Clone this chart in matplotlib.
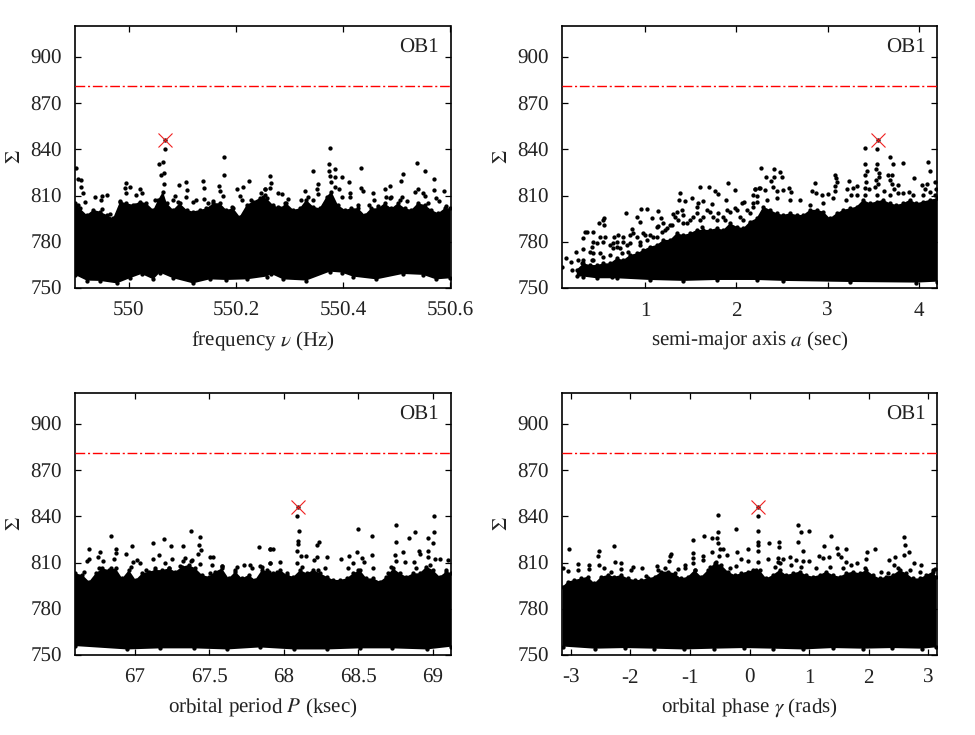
import numpy as np
import matplotlib
matplotlib.use('Agg')
import matplotlib.pyplot as plt

plt.rcParams['font.family'] = ['Liberation Serif', 'DejaVu Serif']
plt.rcParams['mathtext.fontset'] = 'stix'
plt.rcParams['text.hinting'] = 'no_hinting'
plt.rcParams['text.hinting_factor'] = 1

threshold = 881
peak_sigma = 846

# panel 1: frequency
freq_peak = 550.068
freq_x = [550.068, 550.056, 550.064, 550.066, 550.061, 550.066, 549.901, 549.905, 549.912, 549.911, 549.915,
          549.996, 550.002, 549.994, 549.995, 549.937, 549.950, 549.959, 549.948, 550.094, 550.107, 550.109,
          550.087, 550.107, 550.138, 550.141, 550.168, 550.170, 550.178, 550.178, 550.202, 550.213, 550.225,
          550.207, 550.212, 550.021, 550.024, 550.014, 550.125, 550.141, 550.158, 550.176, 550.254, 550.246,
          550.375, 550.374, 550.374, 550.385, 550.343, 550.376, 550.384, 550.397, 550.377, 550.411, 550.353,
          550.352, 550.353, 550.328, 550.434, 550.434, 550.436, 550.455, 550.457, 550.477, 550.487, 550.479,
          550.488, 550.507, 550.511, 550.538, 550.553, 550.570, 550.569, 550.587, 550.539, 550.549, 550.533,
          550.553, 550.573, 550.578, 550.510, 550.264, 550.266, 550.263, 550.254, 550.279, 550.285, 550.297,
          550.393, 550.384, 550.412, 550.412,
          549.906, 549.919, 549.951, 549.965, 549.984, 550.012, 550.049, 550.083, 550.092, 550.120, 550.148,
          550.192, 550.229, 550.251, 550.254, 550.279, 550.291, 550.322, 550.334, 550.344, 550.397, 550.428,
          550.449, 550.465, 550.490, 550.505, 550.518, 550.539, 550.558, 550.592]
freq_y = [840.5, 830.7, 831.6, 824.5, 823.4, 817.5, 827.7, 821.0, 819.9, 815.8, 811.9,
          818.4, 815.4, 814.7, 811.5, 809.3, 810.0, 810.2, 807.2, 816.9, 818.8, 813.9,
          809.8, 809.3, 819.3, 814.7, 816.0, 812.8, 834.9, 823.4, 814.1, 815.6, 819.3,
          810.0, 807.2, 814.1, 811.5, 810.6, 806.9, 807.6, 806.7, 809.8, 814.3, 811.9,
          840.9, 830.7, 826.0, 827.3, 826.2, 822.7, 821.9, 821.7, 818.8, 819.1, 817.5,
          814.3, 811.0, 812.8, 827.7, 815.2, 813.0, 811.9, 807.2, 814.1, 816.0, 809.3,
          808.2, 819.7, 824.2, 831.2, 825.6, 821.0, 813.9, 812.8, 814.1, 811.9, 812.3,
          809.8, 808.7, 806.5, 809.3, 822.7, 818.4, 814.7, 814.3, 811.9, 811.0, 807.8,
          814.3, 815.4, 811.9, 808.9,
          803.9, 805.6, 801.1, 797.8, 806.5, 803.9, 807.2, 807.2, 806.1, 806.1, 805.0,
          802.8, 807.2, 809.3, 810.4, 802.8, 805.0, 807.2, 809.3, 807.2, 809.3, 803.9,
          803.9, 803.3, 808.9, 807.2, 806.6, 803.9, 805.0, 803.3]
freq_edge_x = [549.9, 549.909, 549.922, 549.934, 549.946, 549.959, 549.971, 549.984, 549.996, 550.009, 550.021,
               550.033, 550.046, 550.055, 550.064, 550.071, 550.083, 550.095, 550.108, 550.120, 550.133, 550.145,
               550.158, 550.170, 550.182, 550.195, 550.207, 550.220, 550.232, 550.244, 550.257, 550.269, 550.282,
               550.294, 550.307, 550.319, 550.331, 550.344, 550.356, 550.369, 550.378, 550.390, 550.403, 550.415,
               550.428, 550.440, 550.452, 550.465, 550.477, 550.490, 550.502, 550.515, 550.527, 550.539, 550.552,
               550.564, 550.577, 550.589, 550.6]
freq_edge_y = [805.0, 801.7, 797.4, 800.7, 799.6, 797.4, 795.2, 806.1, 805.0, 803.9, 806.1,
               805.0, 800.7, 807.2, 812.6, 805.0, 800.7, 805.0, 800.7, 799.6, 800.7, 801.7,
               805.0, 805.0, 800.7, 801.7, 796.3, 803.9, 806.1, 808.2, 808.2, 803.9, 801.7,
               805.0, 800.7, 801.7, 807.2, 802.8, 801.7, 809.3, 812.6, 803.9, 800.7, 801.7,
               801.7, 797.4, 801.7, 801.7, 805.0, 801.7, 805.0, 801.7, 800.7, 805.0, 803.9,
               800.7, 798.5, 801.7, 801.7]
freq_floor_x = [549.9, 549.922, 549.946, 549.978, 550.002, 550.024, 550.046, 550.058, 550.083, 550.120, 550.151,
                550.182, 550.220, 550.257, 550.266, 550.288, 550.331, 550.375, 550.397, 550.418, 550.462, 550.511,
                550.549, 550.573, 550.6]
freq_floor_y = [758.5, 754.8, 754.6, 753.0, 756.3, 759.1, 755.6, 760.0, 756.3, 753.0, 755.6,
                755.2, 755.6, 757.4, 759.1, 755.6, 754.8, 760.6, 760.0, 757.4, 755.6, 759.1,
                758.5, 755.6, 756.3]

# panel 2: semi-major axis
axis_peak = 3.548
axis_x = [0.095, 0.132, 0.19, 0.245, 0.325, 0.343, 0.369, 0.434, 0.496, 0.544, 0.555, 0.555, 0.318, 0.434, 0.507,
          0.562, 0.661, 0.708, 0.756, 0.792, 0.861, 0.909, 0.945, 0.956, 1.018, 1.080, 1.139, 1.175, 1.146, 1.292,
          1.310, 1.383, 1.376, 1.434, 1.515, 1.599, 1.705, 1.767, 1.796, 1.913, 1.986, 1.639, 1.584, 1.730, 1.883,
          2.059, 2.084, 2.179, 2.205, 2.248, 2.223, 2.230,
          2.267, 2.413, 2.478, 2.504, 2.325, 2.376, 2.413, 2.398, 2.205, 2.259, 2.314, 2.442, 2.515, 2.581, 2.595,
          2.862, 2.825, 2.873, 2.942, 3.000, 3.081, 3.092, 3.106, 3.081, 3.077, 3.234, 3.212, 3.281, 3.325, 3.252,
          3.409, 3.541, 3.413, 3.435, 3.544, 3.530, 3.562, 3.559, 3.413, 3.427, 3.530, 3.548, 3.413, 3.519, 3.457,
          3.621, 3.683, 3.723, 3.829, 3.668, 3.705, 3.683, 3.712, 3.770, 3.730, 3.825, 3.898, 3.949, 4.103, 4.124,
          4.037, 4.095, 4.066, 4.179, 4.186, 4.121,
          0.325, 0.398, 0.471, 0.544, 0.617, 0.690, 0.763, 0.836, 0.909, 0.982, 1.055, 1.128, 1.201, 1.274, 1.347,
          1.420, 1.493, 1.566, 1.639, 1.712, 1.785, 1.858, 1.931, 2.004, 2.077, 2.150,
          0.307, 0.434, 0.507, 0.653, 0.726, 0.799, 0.945, 1.018, 1.091, 1.219, 1.365, 1.456, 1.602, 1.748, 1.876,
          2.040,
          0.197, 0.288, 0.380, 0.434, 0.471, 0.416, 0.635, 0.690, 0.653, 0.836, 0.872, 0.270, 0.416, 0.544, 0.617,
          0.745, 0.818, 0.945, 1.000, 1.128, 1.183, 1.237, 1.420, 1.529, 1.621,
          2.186, 2.332, 2.442, 2.588, 2.697, 2.807, 2.953, 3.062, 3.208, 3.318, 3.409, 3.537, 3.683, 3.774, 3.938,
          4.048, 4.176, 1.329, 1.402, 1.566, 1.675, 1.803, 1.894, 1.986, 2.113, 2.186]
axis_y = [763.9, 769.7, 767.1, 773.2, 782.3, 786.2, 786.6, 786.2, 792.0, 794.2, 795.7, 790.7, 775.1, 780.1, 782.9,
          783.3, 783.3, 784.6, 782.9, 798.9, 788.1, 796.1, 792.6, 801.3, 801.1, 795.5, 800.2, 795.2, 790.3, 790.9,
          797.8, 811.7, 807.2, 806.3, 808.2, 815.6, 815.6, 812.8, 810.8, 818.4, 813.9, 806.5, 805.4, 804.6, 807.2,
          805.0, 806.1, 810.2, 814.3, 814.9, 809.8, 806.1,
          827.7, 827.1, 825.3, 821.9, 821.7, 819.3, 821.9, 815.8, 814.3, 814.9, 813.6, 812.8, 813.6, 814.7, 812.3,
          818.2, 812.8, 811.7, 810.6, 811.3, 823.2, 821.2, 819.1, 816.2, 813.0, 819.3, 814.1, 814.7, 816.0, 810.4,
          840.9, 840.5, 830.7, 826.0, 830.7, 827.5, 824.5, 822.3, 823.0, 818.8, 819.9, 817.8, 815.2, 815.8, 814.1,
          813.0, 834.9, 830.5, 831.2, 823.4, 823.4, 820.1, 817.3, 816.7, 814.3, 811.7, 812.3, 821.4, 832.0, 826.0,
          816.7, 817.3, 814.3, 819.1, 814.3, 812.1,
          768.2, 773.6, 779.0, 780.1, 777.9, 780.1, 780.1, 784.4, 783.3, 785.5, 784.4, 789.8, 792.0, 790.9, 799.6,
          797.4, 794.2, 802.8, 796.3, 799.6, 794.2, 796.3, 799.6, 800.7, 794.2, 798.5,
          766.0, 768.2, 772.5, 775.8, 775.8, 777.9, 780.1, 781.2, 783.3, 787.7, 794.2, 792.0, 794.2, 796.3, 794.2,
          796.3,
          761.7, 759.5, 763.9, 772.5, 760.6, 776.8, 757.4, 776.8, 779.0, 779.0, 785.5, 768.2, 768.2, 770.4, 771.4,
          772.5, 773.6, 777.9, 784.4, 783.3, 786.6, 788.8, 792.0, 796.3, 789.8,
          805.0, 807.2, 808.2, 807.2, 807.2, 803.9, 805.0, 808.2, 807.2, 810.4, 810.4, 810.4, 810.4, 811.5, 810.4,
          810.4, 810.4, 796.3, 800.7, 798.5, 800.7, 798.5, 800.7, 801.7, 800.7, 802.8]
axis_edge_x = [0.252, 0.325, 0.398, 0.471, 0.544, 0.617, 0.690, 0.763, 0.836, 0.909, 0.982, 1.055,
               1.128, 1.201, 1.274, 1.347, 1.420, 1.493, 1.566, 1.639, 1.712, 1.785, 1.858, 1.931, 2.004, 2.077,
               2.150, 2.223, 2.296, 2.369, 2.442, 2.515, 2.588, 2.661, 2.734, 2.807, 2.880, 2.953, 3.026, 3.099,
               3.172, 3.245, 3.318, 3.391, 3.464, 3.537, 3.610, 3.683, 3.756, 3.829, 3.902, 3.975, 4.048, 4.121,
               4.2]
axis_edge_y = [762.0, 766.0, 764.9, 764.9, 766.0, 766.0, 769.3, 768.2, 771.4, 772.5, 774.7, 776.8,
               777.9, 781.2, 781.2, 785.5, 784.4, 785.5, 787.7, 787.7, 787.7, 788.8, 787.7, 792.0, 789.8, 788.8,
               793.1, 795.2, 802.8, 800.7, 798.5, 797.4, 798.5, 797.4, 797.4, 800.7, 800.7, 799.6, 795.2, 798.5,
               800.7, 801.7, 802.8, 807.2, 805.0, 806.1, 807.2, 805.0, 803.9, 805.0, 807.2, 805.0, 806.1, 807.2,
               808.2]
axis_floor_x = [0.252, 0.325, 0.471, 0.690, 1.055, 1.420, 1.785, 2.223, 2.515, 3.245, 3.975, 4.2]
axis_floor_y = [757.5, 757.4, 756.3, 756.3, 755.2, 754.6, 755.2, 755.2, 754.6, 753.9, 753.5, 754.1]

# panel 3: orbital period
period_peak = 68.095
period_x = [66.844, 66.697, 66.766, 66.875, 66.875, 66.862, 66.942, 66.982, 66.991, 67.013, 67.038, 66.695, 66.683,
            66.755, 66.790, 67.125, 67.125, 67.163, 67.196, 67.245, 67.205, 67.252, 67.325, 67.341, 67.325, 67.377,
            67.439, 67.430, 67.448, 67.424, 67.379, 67.437, 67.504, 67.528, 67.519, 67.584, 67.687, 67.731, 67.776,
            67.834, 67.843, 67.910, 67.910,
            68.093, 68.102, 68.099, 68.099, 68.093, 68.115, 68.151, 68.093, 67.910, 67.928, 67.910, 67.977, 68.206,
            68.222, 68.235, 68.222, 68.289, 68.385, 68.441, 68.496, 68.494, 68.523, 68.539, 68.463, 68.590, 68.590,
            68.601, 68.755, 68.757, 68.746, 68.753, 68.800, 68.880, 68.840, 68.907, 68.918, 68.971, 69.002, 69.009,
            69.009, 68.969, 68.969, 69.051, 69.014, 69.103, 68.873,
            66.661, 66.761, 66.839, 66.973, 67.074, 67.140, 67.230, 67.308, 67.386, 67.508, 67.586, 67.676, 67.787,
            67.887, 67.854, 67.954, 68.021, 68.122, 68.233, 68.278, 68.434, 68.501, 68.701, 68.724, 68.813, 68.891,
            68.980, 69.092]
period_y = [827.2, 818.6, 816.6, 819.0, 816.0, 812.1, 815.3, 820.7, 810.1, 811.9, 809.9, 812.1, 811.2,
            813.8, 811.2, 822.9, 812.3, 814.9, 825.1, 821.0, 809.7, 812.3, 821.0, 813.2, 811.2, 830.7,
            826.6, 821.4, 817.9, 815.3, 811.2, 809.0, 813.8, 813.8, 808.6, 807.8, 807.3, 808.4, 808.4,
            819.9, 807.8, 818.8, 809.9,
            840.2, 830.3, 824.2, 822.0, 817.5, 814.2, 814.5, 809.9, 818.8, 818.8, 809.9, 810.3, 811.6,
            821.4, 823.1, 813.6, 813.8, 812.3, 814.0, 831.8, 817.0, 813.2, 810.6, 809.9, 827.2, 814.7,
            806.2, 834.6, 823.3, 814.9, 811.2, 816.6, 830.0, 825.7, 817.5, 815.5, 825.7, 822.9, 840.4,
            830.0, 817.5, 813.8, 812.3, 812.3, 811.6, 810.6,
            804.1, 806.2, 806.2, 806.9, 805.1, 806.2, 806.2, 807.8, 811.6, 803.4, 807.8, 805.1, 806.2,
            805.1, 806.9, 804.1, 803.0, 807.3, 805.1, 806.2, 806.2, 805.1, 803.0, 807.3, 810.6, 806.2,
            808.4, 805.1]
period_edge_x = [66.6, 66.650, 66.695, 66.739, 66.784, 66.828, 66.873, 66.917, 66.962, 67.007, 67.051, 67.096,
                 67.140, 67.185, 67.230, 67.274, 67.319, 67.363, 67.408, 67.453, 67.497, 67.542, 67.586, 67.631,
                 67.676, 67.720, 67.765, 67.809, 67.854, 67.899, 67.932, 67.977, 68.021, 68.066, 68.111, 68.155,
                 68.200, 68.244, 68.289, 68.334, 68.378, 68.423, 68.467, 68.512, 68.556, 68.601, 68.646, 68.690,
                 68.735, 68.779, 68.824, 68.869, 68.913, 68.958, 69.002, 69.047, 69.092, 69.125]
period_edge_y = [803.0, 801.9, 797.6, 803.0, 806.2, 805.1, 806.2, 799.7, 805.1, 798.7, 803.0, 804.1,
                 805.1, 805.1, 806.2, 804.1, 807.3, 808.4, 806.2, 801.9, 800.8, 804.1, 806.2, 799.7,
                 804.1, 799.7, 801.9, 798.7, 805.1, 804.1, 803.0, 805.1, 801.9, 800.8, 805.1, 803.0,
                 805.1, 803.0, 800.8, 798.7, 798.7, 799.7, 803.0, 805.1, 799.7, 799.7, 797.6, 800.8,
                 806.2, 803.0, 800.8, 803.0, 803.0, 807.3, 805.1, 800.8, 804.1, 803.0]
period_floor_x = [66.6, 66.95, 67.17, 67.40, 67.62, 67.84, 68.07, 68.29, 68.51, 68.73, 68.96, 69.125]
period_floor_y = [755.8, 753.6, 754.3, 754.3, 753.6, 754.9, 753.6, 753.6, 754.3, 754.3, 753.6, 755.4]

# panel 4: orbital phase
phase_peak = 0.146
phase_x = [-3.025, -2.532, -2.549, -2.532, -2.269, -2.252, -2.157, -2.157, -2.885, -2.689, -1.949, -1.809, -1.552,
           -1.344, -1.316, -1.355, -1.204, -1.081, -0.941, -0.952, -0.952, -0.952, -0.773, -0.762, -0.773, -0.633,
           -0.622, -0.543, -0.521, -0.521, -0.521, -0.504, -0.437, -0.375, -0.509, -0.224, -0.218, -0.151, -0.224,
           -0.017, -0.017,
           0.146, 0.140, 0.140, 0.146, 0.146, 0.151, 0.325, 0.319, 0.493, 0.493, 0.476, 0.476, 0.683, 0.560, 0.812,
           0.812, 0.857, 0.992, 0.891, 0.992, 0.896, 0.784, 1.361, 1.244, 1.333, 1.160, 1.232, 1.473, 1.485, 1.613,
           1.541, 1.625, 1.810, 1.966, 2.101, 1.950, 2.342, 2.437, 2.420, 2.599, 2.605, 2.594, 2.683, 2.756, 2.874,
           3.109,
           -3.137, -3.053, -2.885, -2.689, -2.437, -2.325, -1.988, -1.736, -1.540, -1.428, -1.092, -0.924, -0.672,
           -0.560, -0.336, -0.084, 0.112, 0.420, 0.504, 0.700, 0.868, 1.120, 1.345, 1.569, 1.709, 1.933, 2.213,
           2.325, 2.493, 2.689, 2.857, 3.081]
phase_y = [818.8, 817.7, 814.5, 808.2, 820.7, 810.1, 809.7, 806.0, 808.8, 808.2, 807.1, 806.4, 807.8,
           814.2, 815.8, 811.2, 805.8, 808.2, 824.6, 816.0, 812.7, 809.5, 814.5, 827.2, 811.6, 817.1,
           825.7, 825.7, 840.6, 830.0, 822.5, 818.6, 818.8, 814.9, 814.5, 831.8, 817.1, 812.3, 807.8,
           818.6, 811.2,
           840.2, 830.5, 823.6, 821.4, 817.5, 810.6, 822.9, 812.3, 823.1, 820.3, 812.7, 810.6, 813.8, 812.1, 834.6,
           823.1, 830.0, 830.7, 817.7, 811.0, 811.2, 811.6, 827.2, 820.7, 813.8, 814.0, 812.7, 819.7, 815.5, 818.6,
           813.8, 810.6, 809.9, 816.6, 819.0, 812.3, 811.4, 813.8, 808.6, 826.6, 821.4, 815.1, 816.6, 809.9, 808.6,
           805.8,
           806.2, 804.5, 805.1, 805.6, 806.2, 804.1, 805.1, 801.3, 805.1, 806.2, 806.2, 805.1, 807.3,
           810.6, 806.2, 802.6, 805.1, 807.3, 809.5, 808.4, 807.3, 806.2, 807.3, 806.2, 808.4, 806.2, 804.1,
           803.0, 806.2, 805.1, 804.1, 805.1]
phase_edge_x = [-3.14, -3.053, -2.941, -2.829, -2.717, -2.605, -2.493, -2.381, -2.269, -2.157, -2.044, -1.932,
                -1.820, -1.708, -1.596, -1.484, -1.372, -1.260, -1.148, -1.036, -0.924, -0.812, -0.700, -0.588,
                -0.476, -0.364, -0.252, -0.140, -0.028, 0.056, 0.168, 0.280, 0.392, 0.504, 0.616, 0.728, 0.840,
                0.952, 1.064, 1.176, 1.289, 1.401, 1.513, 1.625, 1.737, 1.849, 1.961, 2.073, 2.185, 2.297, 2.409,
                2.521, 2.633, 2.745, 2.857, 2.969, 3.081, 3.14]
phase_edge_y = [794.3, 797.6, 798.7, 799.7, 800.8, 796.5, 800.8, 801.9, 800.8, 801.9, 799.7, 798.7,
                798.7, 799.7, 800.8, 804.1, 804.1, 803.0, 799.7, 800.8, 805.1, 800.8, 805.1, 809.5,
                808.4, 804.1, 801.9, 803.0, 804.1, 805.1, 805.1, 799.7, 801.9, 805.1, 801.9, 803.0, 804.1,
                801.9, 800.8, 801.9, 804.1, 801.9, 800.8, 803.0, 804.1, 803.0, 805.1, 801.9, 799.7, 800.8, 801.9,
                805.1, 803.0, 799.7, 799.7, 801.9, 804.1, 800.8]
phase_floor_x = [-3.14, -2.6, -2.1, -1.6, -1.1, -0.6, -0.1, 0.4, 0.9, 1.4, 1.9, 2.4, 2.9, 3.14]
phase_floor_y = [755.5, 754.1, 754.5, 754.1, 753.6, 754.1, 754.5, 754.1, 753.6, 754.5, 754.1, 754.5, 754.1, 755.0]

yticks = [750, 780, 810, 840, 870, 900]

fig = plt.figure(figsize=(9.75, 7.35), dpi=100)


def draw_panel(box, x, y, edge_x, edge_y, floor_x, floor_y, peak, xlim, xticks, xticklabels, xlabel):
    ax = fig.add_axes([box[0] / 975, 1 - box[3] / 735, (box[2] - box[0]) / 975, (box[3] - box[1]) / 735])
    # the dense part of the cloud can't be read point by point, so it's an outline
    ax.fill(np.concatenate([edge_x, floor_x[::-1]]), np.concatenate([edge_y, floor_y[::-1]]),
            color='black', lw=0, zorder=2)
    ax.plot(edge_x, edge_y, 'o', color='black', ms=3.1, mew=0, zorder=2)
    ax.plot(floor_x, floor_y, 'o', color='black', ms=3.1, mew=0, zorder=2)
    ax.plot(x, y, 'o', color='black', ms=3.1, mew=0, zorder=2)
    ax.axhline(threshold, color='red', lw=1.0, ls=(0, (7, 2, 1.5, 2)), zorder=3)
    ax.plot([peak], [peak_sigma], 'o', color='black', ms=3.1, mew=0, zorder=3)
    ax.plot([peak], [peak_sigma], 'x', color='#f02020', ms=10, mew=0.8, zorder=4)
    ax.set_xlim(*xlim)
    ax.set_ylim(750, 920)
    ax.set_xticks(xticks)
    ax.set_xticklabels(xticklabels)
    ax.set_yticks(yticks)
    ax.tick_params(direction='in', top=True, right=True, length=4.5, width=0.9, labelsize=15,
                   colors='black', labelcolor='#222222')
    ax.tick_params(axis='x', pad=9.5)
    ax.tick_params(axis='y', pad=9.5)
    for spine in ax.spines.values():
        spine.set_linewidth(1.2)
    ax.set_xlabel(xlabel, fontsize=15, color='#222222', labelpad=7)
    ax.set_ylabel(r'$\Sigma$', fontsize=15, color='#222222')
    ax.yaxis.set_label_coords(-0.135, 0.5)
    ax.text(0.9693, 0.918, 'OB1', transform=ax.transAxes, ha='right', va='center', fontsize=15, color='#222222')


draw_panel((75, 26, 450.5, 288), freq_x, freq_y, freq_edge_x, freq_edge_y, freq_floor_x, freq_floor_y, freq_peak,
           (549.9, 550.6), [550, 550.2, 550.4, 550.6], ['550', '550.2', '550.4', '550.6'],
           r'frequency $\nu$ (Hz)')
draw_panel((562, 26, 937, 288), axis_x, axis_y, axis_edge_x, axis_edge_y, axis_floor_x, axis_floor_y, axis_peak,
           (0.09, 4.2), [1, 2, 3, 4], ['1', '2', '3', '4'],
           r'semi-major axis $a$ (sec)')
draw_panel((75, 393, 450.5, 655), period_x, period_y, period_edge_x, period_edge_y, period_floor_x, period_floor_y,
           period_peak, (66.6, 69.12), [67, 67.5, 68, 68.5, 69], ['67', '67.5', '68', '68.5', '69'],
           r'orbital period $P$ (ksec)')
draw_panel((562, 393, 937, 655), phase_x, phase_y, phase_edge_x, phase_edge_y, phase_floor_x, phase_floor_y,
           phase_peak, (-3.15, 3.15), [-3, -2, -1, 0, 1, 2, 3], ['-3', '-2', '-1', '0', '1', '2', '3'],
           r'orbital phase $\gamma$ (rads)')

fig.savefig('out.png', dpi=100)
